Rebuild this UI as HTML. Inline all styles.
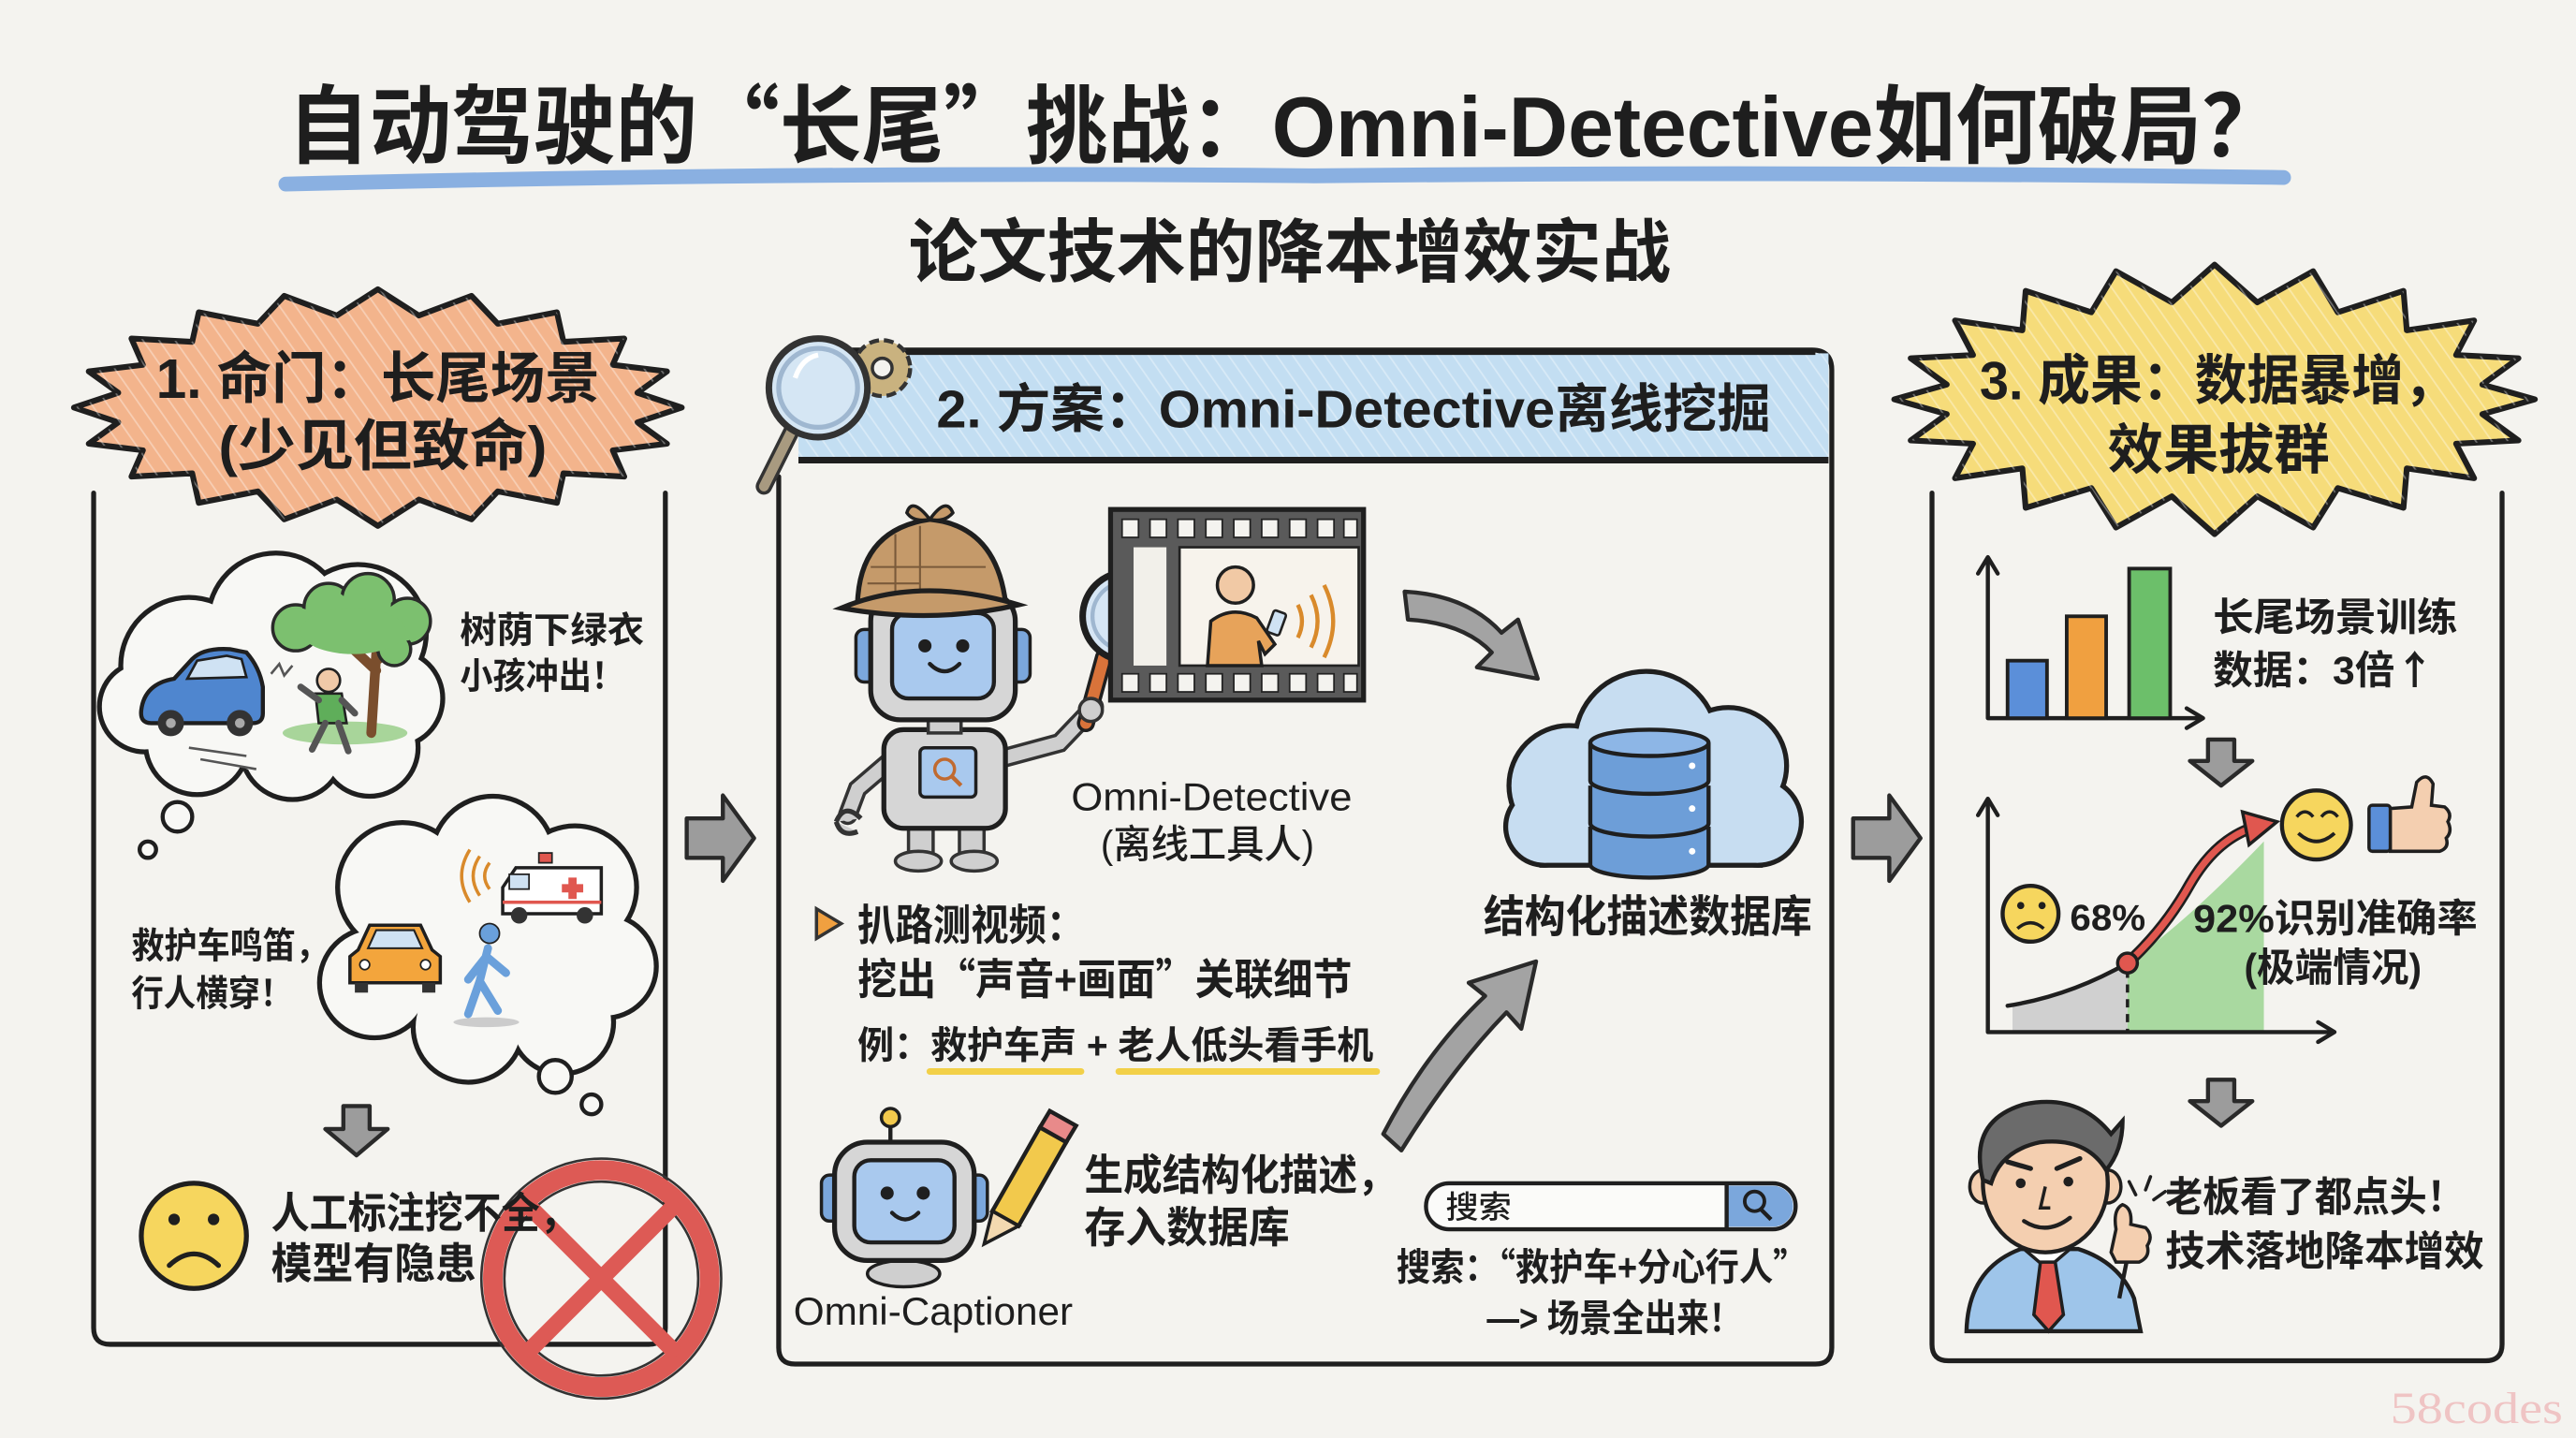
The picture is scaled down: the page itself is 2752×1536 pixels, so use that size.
<!DOCTYPE html>
<html><head><meta charset="utf-8">
<style>
html,body{margin:0;padding:0;background:#f4f3ef;}
svg{display:block}
.t{font-family:"Liberation Sans","Noto Sans CJK SC",sans-serif;fill:#1e1e1e;}
.b{font-weight:700}
.m{font-weight:500}
.q{font-family:"Noto Sans CJK SC",sans-serif;}
</style></head>
<body>
<svg width="2752" height="1536" viewBox="0 0 1568 875" preserveAspectRatio="none" xmlns="http://www.w3.org/2000/svg">
<defs>
<pattern id="hatch" width="8" height="8" patternUnits="userSpaceOnUse" patternTransform="rotate(-35)">
<line x1="0" y1="0" x2="0" y2="8" stroke="#ffffff" stroke-width="2" opacity="0.35"/>
</pattern>
</defs>
<rect width="1568" height="875" fill="#f4f3ef"/>

<!-- Title -->
<text class="t b" x="175" y="95" font-size="52" textLength="1215" lengthAdjust="spacingAndGlyphs">自动驾驶的<tspan class="q">“</tspan>长尾<tspan class="q">”</tspan>挑战：Omni-Detective如何破局？</text>
<path d="M174,112 Q500,104 800,107 Q1100,104 1390,108" stroke="#7ea9df" stroke-width="9" fill="none" stroke-linecap="round" opacity="0.9"/>
<text class="t b" x="553" y="168" font-size="42" textLength="464" lengthAdjust="spacingAndGlyphs">论文技术的降本增效实战</text>

<!-- Panel boxes -->
<g stroke="#1f1f1f" stroke-width="3" fill="none" stroke-linecap="round">
<path d="M57,300 L57,808 Q57,818 67,818 L395,818 Q405,818 405,808 L405,300"/>
<path d="M474,290 L474,820 Q474,830 484,830 L1105,830 Q1115,830 1115,820 L1115,225 Q1115,213 1103,213 L490,213"/>
<path d="M1176,300 L1176,818 Q1176,828 1186,828 L1513,828 Q1523,828 1523,818 L1523,300"/>
</g>

<!-- Middle header band -->
<rect x="486" y="215" width="627" height="64" fill="#c3def2"/>
<rect x="486" y="215" width="627" height="64" fill="url(#hatch)"/>
<line x1="490" y1="214" x2="1105" y2="214" stroke="#1f1f1f" stroke-width="4"/>
<line x1="486" y1="280" x2="1113" y2="280" stroke="#1f1f1f" stroke-width="4"/>
<text class="t b" x="570" y="260" font-size="32" textLength="508" lengthAdjust="spacingAndGlyphs">2. 方案：Omni-Detective离线挖掘</text>
<!-- gear + magnifier -->
<circle cx="537" cy="224" r="17" fill="#c9b27f" stroke="#333" stroke-width="2.5" stroke-dasharray="6 3"/>
<circle cx="537" cy="224" r="6" fill="#f4f3ef" stroke="#333" stroke-width="2"/>
<line x1="482" y1="262" x2="465" y2="296" stroke="#333" stroke-width="10" stroke-linecap="round"/>
<line x1="482" y1="262" x2="465" y2="296" stroke="#a89a80" stroke-width="6" stroke-linecap="round"/>
<circle cx="498" cy="236" r="30" fill="#d5e6f4" stroke="#333" stroke-width="4"/>
<circle cx="498" cy="236" r="24" fill="none" stroke="#9fb7d0" stroke-width="3"/>
<path d="M484,230 Q488,218 498,216" stroke="#fff" stroke-width="3" fill="none"/>

<!-- Left starburst -->
<polygon points="415,248 388,257 406,270 373,274 380,290 343,288 339,306 303,299 287,316 255,304 230,320 205,304 173,316 157,299 121,306 117,288 80,290 87,274 54,270 72,257 45,248 72,239 54,226 87,222 80,206 117,208 121,190 157,197 173,180 205,192 230,176 255,192 287,180 303,197 339,190 343,208 380,206 373,222 406,226 388,239" fill="#f3b48c" stroke="#1f1f1f" stroke-width="3.5" stroke-linejoin="round"/>
<polygon points="415,248 388,257 406,270 373,274 380,290 343,288 339,306 303,299 287,316 255,304 230,320 205,304 173,316 157,299 121,306 117,288 80,290 87,274 54,270 72,257 45,248 72,239 54,226 87,222 80,206 117,208 121,190 157,197 173,180 205,192 230,176 255,192 287,180 303,197 339,190 343,208 380,206 373,222 406,226 388,239" fill="url(#hatch)"/>
<text class="t b" x="95" y="242" font-size="34" textLength="270" lengthAdjust="spacingAndGlyphs">1. 命门：长尾场景</text>
<text class="t b" x="133" y="283" font-size="34" textLength="200" lengthAdjust="spacingAndGlyphs">(少见但致命)</text>

<!-- Right starburst -->
<polygon points="1543,243 1511,252 1533,268 1495,270 1506,291 1465,285 1463,309 1423,297 1408,321 1374,302 1348,325 1322,302 1288,321 1273,297 1233,309 1231,285 1190,291 1201,270 1163,268 1185,252 1153,243 1185,234 1163,218 1201,216 1190,195 1231,201 1233,177 1273,190 1288,165 1322,184 1348,161 1374,184 1408,165 1423,190 1463,177 1465,201 1506,195 1495,216 1533,218 1511,234" fill="#f6dc7a" stroke="#1f1f1f" stroke-width="3.5" stroke-linejoin="round"/>
<polygon points="1543,243 1511,252 1533,268 1495,270 1506,291 1465,285 1463,309 1423,297 1408,321 1374,302 1348,325 1322,302 1288,321 1273,297 1233,309 1231,285 1190,291 1201,270 1163,268 1185,252 1153,243 1185,234 1163,218 1201,216 1190,195 1231,201 1233,177 1273,190 1288,165 1322,184 1348,161 1374,184 1408,165 1423,190 1463,177 1465,201 1506,195 1495,216 1533,218 1511,234" fill="url(#hatch)"/>
<text class="t b" x="1205" y="243" font-size="33" textLength="290" lengthAdjust="spacingAndGlyphs">3. 成果：数据暴增，</text>
<text class="t b" x="1283" y="285" font-size="33" textLength="135" lengthAdjust="spacingAndGlyphs">效果拔群</text>

<!-- Between-panel arrows -->
<path d="M418,498 L440,498 L440,484 L459,510 L440,536 L440,522 L418,522 Z" fill="#9c9c9c" stroke="#2a2a2a" stroke-width="2.5" stroke-linejoin="round"/>
<path d="M1128,498 L1150,498 L1150,484 L1169,510 L1150,536 L1150,522 L1128,522 Z" fill="#9c9c9c" stroke="#2a2a2a" stroke-width="2.5" stroke-linejoin="round"/>

<!-- ===== LEFT PANEL CONTENT ===== -->
<!-- cloud 1 -->
<g stroke="#1f1f1f" stroke-width="6" fill="#f8f8f5">
<circle cx="115" cy="405" r="40"/><circle cx="168" cy="378" r="40"/><circle cx="218" cy="385" r="40"/><circle cx="240" cy="425" r="28"/><circle cx="225" cy="455" r="28"/><circle cx="178" cy="455" r="30"/><circle cx="120" cy="452" r="30"/><circle cx="88" cy="430" r="26"/>
</g>
<g fill="#f8f8f5">
<circle cx="115" cy="405" r="40"/><circle cx="168" cy="378" r="40"/><circle cx="218" cy="385" r="40"/><circle cx="240" cy="425" r="28"/><circle cx="225" cy="455" r="28"/><circle cx="178" cy="455" r="30"/><circle cx="120" cy="452" r="30"/><circle cx="88" cy="430" r="26"/><circle cx="170" cy="422" r="50"/>
</g>
<!-- tree -->
<ellipse cx="210" cy="446" rx="38" ry="7" fill="#a8d59a"/>
<path d="M226,446 L229,398 M229,408 L214,394 M229,402 L243,392" stroke="#7a4e2d" stroke-width="6" fill="none" stroke-linecap="round"/>
<g fill="#7cc06f" stroke="#2a2a2a" stroke-width="2">
<circle cx="180" cy="382" r="14"/><circle cx="200" cy="370" r="15"/><circle cx="224" cy="365" r="16"/><circle cx="248" cy="378" r="14"/><circle cx="240" cy="395" r="10"/>
</g>
<g fill="#7cc06f"><circle cx="182" cy="382" r="12"/><circle cx="200" cy="372" r="13"/><circle cx="224" cy="367" r="14"/><circle cx="246" cy="378" r="12"/><circle cx="239" cy="394" r="8"/><ellipse cx="215" cy="384" rx="32" ry="14"/></g>
<!-- child -->
<circle cx="200" cy="414" r="7" fill="#f0c9a8" stroke="#222" stroke-width="1.5"/>
<path d="M192,422 L208,422 L211,440 L194,440 Z" fill="#5fae5a" stroke="#222" stroke-width="1.5"/>
<path d="M194,426 L183,418 M208,426 L216,434 M198,440 L190,456 M206,440 L212,457" stroke="#555" stroke-width="4" fill="none" stroke-linecap="round"/>
<!-- blue car -->
<path d="M86,432 Q88,416 106,413 L117,401 Q124,394 140,395 L150,397 Q158,406 160,418 L160,434 Q160,440 154,440 L92,440 Q85,440 86,432 Z" fill="#4f86cf" stroke="#1f1f1f" stroke-width="2.5"/>
<path d="M120,402 L138,399 L147,401 L150,412 L114,413 Z" fill="#cfe2f3" stroke="#1f1f1f" stroke-width="1.5"/>
<circle cx="104" cy="440" r="8" fill="#333"/><circle cx="104" cy="440" r="3" fill="#aaa"/>
<circle cx="146" cy="440" r="8" fill="#333"/><circle cx="146" cy="440" r="3" fill="#aaa"/>
<path d="M115,455 L150,460 M122,462 L156,468 M165,410 L170,404 L173,411 L178,405" stroke="#555" stroke-width="1.5" fill="none"/>
<!-- bubbles -->
<circle cx="108" cy="497" r="9" fill="#f8f8f5" stroke="#1f1f1f" stroke-width="2.5"/>
<circle cx="90" cy="517" r="5" fill="#f8f8f5" stroke="#1f1f1f" stroke-width="2.5"/>
<text class="t b" x="280" y="391" font-size="22" textLength="112" lengthAdjust="spacingAndGlyphs">树荫下绿衣</text>
<text class="t b" x="280" y="419" font-size="22" textLength="100" lengthAdjust="spacingAndGlyphs">小孩冲出！</text>

<!-- cloud 2 -->
<g stroke="#1f1f1f" stroke-width="6" fill="#f8f8f5">
<circle cx="245" cy="540" r="38"/><circle cx="300" cy="522" r="36"/><circle cx="350" cy="540" r="36"/><circle cx="368" cy="588" r="30"/><circle cx="342" cy="622" r="30"/><circle cx="285" cy="625" r="32"/><circle cx="228" cy="598" r="32"/>
</g>
<g fill="#f8f8f5">
<circle cx="245" cy="540" r="38"/><circle cx="300" cy="522" r="36"/><circle cx="350" cy="540" r="36"/><circle cx="368" cy="588" r="30"/><circle cx="342" cy="622" r="30"/><circle cx="285" cy="625" r="32"/><circle cx="228" cy="598" r="32"/><circle cx="298" cy="578" r="55"/>
</g>
<!-- ambulance -->
<rect x="328" y="519" width="8" height="6" fill="#e0574f" stroke="#222" stroke-width="1"/>
<path d="M306,540 L314,528 L366,528 L366,556 L306,556 Z" fill="#fff" stroke="#1f1f1f" stroke-width="2"/>
<rect x="310" y="532" width="12" height="9" fill="#cfe2f3" stroke="#222" stroke-width="1"/>
<line x1="306" y1="549" x2="366" y2="549" stroke="#e0574f" stroke-width="2"/>
<path d="M346,534 h5 v4 h4 v5 h-4 v4 h-5 v-4 h-4 v-5 h4 Z" fill="#e0574f"/>
<circle cx="316" cy="557" r="5" fill="#333"/><circle cx="356" cy="557" r="5" fill="#333"/>
<path d="M298,525 Q292,533 298,541 M292,521 Q284,533 292,545 M286,517 Q276,533 286,549" stroke="#d98a2b" stroke-width="2" fill="none"/>
<!-- orange car -->
<path d="M218,578 L225,563 L256,563 L263,578 L268,582 L268,598 L213,598 L213,582 Z" fill="#f3a53c" stroke="#1f1f1f" stroke-width="2"/>
<path d="M224,577 L229,566 L252,566 L257,577 Z" fill="#cfe2f3" stroke="#222" stroke-width="1.2"/>
<circle cx="222" cy="587" r="3" fill="#fff" stroke="#222"/><circle cx="259" cy="587" r="3" fill="#fff" stroke="#222"/>
<rect x="216" y="598" width="8" height="6" fill="#333"/><rect x="257" y="598" width="8" height="6" fill="#333"/>
<!-- pedestrian -->
<ellipse cx="296" cy="622" rx="20" ry="3" fill="#ccc"/>
<circle cx="298" cy="568" r="6" fill="#6aa0db" stroke="#222" stroke-width="1"/>
<path d="M297,577 L292,597 L285,617 M292,597 L303,615 M296,582 L285,596 M296,582 L308,592" stroke="#6aa0db" stroke-width="5" fill="none" stroke-linecap="round"/>
<circle cx="338" cy="655" r="10" fill="#f8f8f5" stroke="#1f1f1f" stroke-width="2.5"/>
<circle cx="360" cy="672" r="6" fill="#f8f8f5" stroke="#1f1f1f" stroke-width="2.5"/>
<text class="t b" x="80" y="583" font-size="22" textLength="120" lengthAdjust="spacingAndGlyphs">救护车鸣笛，</text>
<text class="t b" x="80" y="612" font-size="22" textLength="98" lengthAdjust="spacingAndGlyphs">行人横穿！</text>

<!-- down arrow -->
<path d="M209,673 L225,673 L225,687 L236,687 L217,703 L198,687 L209,687 Z" fill="#9c9c9c" stroke="#2a2a2a" stroke-width="2.5" stroke-linejoin="round"/>

<!-- red prohibition (behind text) -->
<circle cx="366" cy="778" r="73" fill="none" stroke="#333" stroke-width="1.5"/>
<circle cx="366" cy="778" r="66" fill="none" stroke="#dd5a55" stroke-width="12"/>
<circle cx="366" cy="778" r="59" fill="none" stroke="#333" stroke-width="1.5"/>
<path d="M323,735 L409,821 M409,735 L323,821" stroke="#dd5a55" stroke-width="10" stroke-linecap="round"/>

<!-- sad face -->
<circle cx="118" cy="752" r="32" fill="#f6d65e" stroke="#1f1f1f" stroke-width="3"/>
<circle cx="106" cy="742" r="3.5" fill="#1f1f1f"/><circle cx="130" cy="742" r="3.5" fill="#1f1f1f"/>
<path d="M103,770 Q118,756 133,770" stroke="#1f1f1f" stroke-width="3" fill="none" stroke-linecap="round"/>
<text class="t b" x="165" y="747" font-size="26" textLength="187" lengthAdjust="spacingAndGlyphs">人工标注挖不全，</text>
<text class="t b" x="165" y="778" font-size="26" textLength="125" lengthAdjust="spacingAndGlyphs">模型有隐患</text>

<!-- ===== MIDDLE PANEL CONTENT ===== -->
<!-- detective robot -->
<path d="M543,462 L522,480 L516,496" stroke="#333" stroke-width="12" fill="none" stroke-linecap="round"/>
<path d="M543,462 L522,480 L516,496" stroke="#cfcfcf" stroke-width="8" fill="none" stroke-linecap="round"/>
<path d="M509,500 Q514,488 524,498 M509,500 Q512,510 522,506" stroke="#333" stroke-width="3" fill="#cfcfcf"/>
<path d="M608,462 L645,452 L666,430" stroke="#333" stroke-width="12" fill="none" stroke-linecap="round"/>
<path d="M608,462 L645,452 L666,430" stroke="#cfcfcf" stroke-width="8" fill="none" stroke-linecap="round"/>
<rect x="553" y="500" width="15" height="20" fill="#cfcfcf" stroke="#333" stroke-width="2"/>
<rect x="584" y="500" width="15" height="20" fill="#cfcfcf" stroke="#333" stroke-width="2"/>
<ellipse cx="559" cy="524" rx="14" ry="6" fill="#cfcfcf" stroke="#333" stroke-width="2"/>
<ellipse cx="593" cy="524" rx="14" ry="6" fill="#cfcfcf" stroke="#333" stroke-width="2"/>
<rect x="538" y="444" width="74" height="60" rx="12" fill="#d6d6d6" stroke="#1f1f1f" stroke-width="3"/>
<rect x="560" y="455" width="34" height="30" rx="3" fill="#a9c9ee" stroke="#1f1f1f" stroke-width="2"/>
<circle cx="575" cy="468" r="6" fill="none" stroke="#c06a30" stroke-width="2"/>
<line x1="579" y1="472" x2="585" y2="478" stroke="#c06a30" stroke-width="2.5"/>
<rect x="565" y="436" width="20" height="10" fill="#cfcfcf" stroke="#333" stroke-width="2"/>
<rect x="521" y="383" width="13" height="32" rx="5" fill="#7ba7dc" stroke="#1f1f1f" stroke-width="2"/>
<rect x="614" y="383" width="13" height="32" rx="5" fill="#7ba7dc" stroke="#1f1f1f" stroke-width="2"/>
<rect x="530" y="360" width="88" height="78" rx="18" fill="#d6d6d6" stroke="#1f1f1f" stroke-width="3"/>
<rect x="543" y="373" width="62" height="52" rx="10" fill="#a9c9ee" stroke="#1f1f1f" stroke-width="2.5"/>
<circle cx="563" cy="393" r="4" fill="#1f1f1f"/><circle cx="586" cy="393" r="4" fill="#1f1f1f"/>
<path d="M566,404 Q575,413 584,404" stroke="#1f1f1f" stroke-width="2.5" fill="none" stroke-linecap="round"/>
<!-- hat -->
<path d="M522,366 Q524,322 566,316 Q606,320 612,366 Z" fill="#c59a6a" stroke="#1f1f1f" stroke-width="3"/>
<path d="M530,345 L600,345 M528,355 L560,355 M545,325 L545,366 M560,320 L560,366" stroke="#7a5a3a" stroke-width="1.2"/>
<path d="M512,370 Q560,350 620,368 Q568,380 512,370 Z" fill="#c59a6a" stroke="#1f1f1f" stroke-width="3"/>
<path d="M566,316 Q555,302 552,312 Q556,318 566,316 Q576,302 580,312 Q575,318 566,316" fill="#c59a6a" stroke="#1f1f1f" stroke-width="2"/>
<!-- magnifier held -->
<line x1="672" y1="400" x2="661" y2="440" stroke="#1f1f1f" stroke-width="11" stroke-linecap="round"/>
<line x1="672" y1="400" x2="661" y2="440" stroke="#d9733a" stroke-width="7" stroke-linecap="round"/>
<circle cx="686" cy="375" r="27" fill="#d6e6f5" stroke="#1f1f1f" stroke-width="4"/>
<circle cx="686" cy="375" r="21" fill="none" stroke="#9fb7d0" stroke-width="2.5"/>
<circle cx="664" cy="432" r="7" fill="#cfcfcf" stroke="#333" stroke-width="2"/>
<!-- film strip -->
<rect x="676" y="310" width="154" height="116" fill="#5a5a5a" stroke="#1f1f1f" stroke-width="3"/>
<g fill="#f4f3ef" stroke="#222" stroke-width="1">
<rect x="683" y="316" width="10" height="11"/><rect x="700" y="316" width="10" height="11"/><rect x="717" y="316" width="10" height="11"/><rect x="734" y="316" width="10" height="11"/><rect x="751" y="316" width="10" height="11"/><rect x="768" y="316" width="10" height="11"/><rect x="785" y="316" width="10" height="11"/><rect x="802" y="316" width="10" height="11"/><rect x="818" y="316" width="8" height="11"/>
<rect x="683" y="410" width="10" height="11"/><rect x="700" y="410" width="10" height="11"/><rect x="717" y="410" width="10" height="11"/><rect x="734" y="410" width="10" height="11"/><rect x="751" y="410" width="10" height="11"/><rect x="768" y="410" width="10" height="11"/><rect x="785" y="410" width="10" height="11"/><rect x="802" y="410" width="10" height="11"/><rect x="818" y="410" width="8" height="11"/>
</g>
<rect x="690" y="333" width="20" height="72" fill="#f2f0ea"/>
<rect x="718" y="333" width="109" height="72" fill="#f7f3ec" stroke="#222" stroke-width="1.5"/>
<path d="M735,405 L737,378 Q750,368 765,376 L776,392 L770,398 L766,390 L768,405 Z" fill="#e7a35a" stroke="#1f1f1f" stroke-width="2"/>
<circle cx="752" cy="356" r="11" fill="#f1c9a5" stroke="#1f1f1f" stroke-width="2"/>
<rect x="773" y="372" width="8" height="14" rx="1.5" transform="rotate(20 777 379)" fill="#cfe2f3" stroke="#222" stroke-width="1.5"/>
<path d="M790,368 Q795,378 790,388 M798,362 Q806,378 798,394 M806,356 Q817,378 806,400" stroke="#d98a2b" stroke-width="2.5" fill="none"/>
<text class="t m" x="652" y="493" font-size="24" textLength="171" lengthAdjust="spacingAndGlyphs">Omni-Detective</text>
<text class="t m" x="670" y="522" font-size="24" textLength="130" lengthAdjust="spacingAndGlyphs">(离线工具人)</text>

<!-- curved arrow 1 -->
<path d="M855,360 Q893,362 914,385 L924,377 L936,413 L899,406 L908,397 Q891,379 857,377 Z" fill="#a3a3a3" stroke="#2a2a2a" stroke-width="2.5" stroke-linejoin="round"/>

<!-- cloud DB -->
<g stroke="#1f1f1f" stroke-width="6" fill="#c7ddf1">
<circle cx="955" cy="478" r="35"/><circle cx="1002" cy="452" r="42"/><circle cx="1052" cy="466" r="34"/><circle cx="1070" cy="500" r="25"/><circle cx="940" cy="503" r="22"/>
<rect x="940" y="495" width="130" height="30"/>
</g>
<g fill="#c7ddf1">
<circle cx="955" cy="478" r="35"/><circle cx="1002" cy="452" r="42"/><circle cx="1052" cy="466" r="34"/><circle cx="1070" cy="500" r="25"/><circle cx="940" cy="503" r="22"/>
<rect x="940" y="470" width="130" height="55"/>
</g>
<g fill="#6d9ed8" stroke="#1f1f1f" stroke-width="2.5">
<path d="M968,503 L968,526 A36,8 0 0 0 1040,526 L1040,503"/>
<path d="M968,478 L968,501 A36,8 0 0 0 1040,501 L1040,478"/>
<path d="M968,452 L968,475 A36,8 0 0 0 1040,475 L1040,452"/>
<ellipse cx="1004" cy="452" rx="36" ry="8" fill="#8db6e6"/>
</g>
<circle cx="1030" cy="466" r="2" fill="#fff"/><circle cx="1030" cy="492" r="2" fill="#fff"/><circle cx="1030" cy="518" r="2" fill="#fff"/>
<text class="t b" x="903" y="567" font-size="27" textLength="200" lengthAdjust="spacingAndGlyphs">结构化描述数据库</text>

<!-- bullet text -->
<polygon points="497,553 512,562 497,571" fill="#f0a040" stroke="#333" stroke-width="2"/>
<text class="t b" x="522" y="572" font-size="26" textLength="138" lengthAdjust="spacingAndGlyphs">扒路测视频：</text>
<text class="t b" x="522" y="605" font-size="26" textLength="301" lengthAdjust="spacingAndGlyphs">挖出<tspan class="q">“</tspan>声音+画面<tspan class="q">”</tspan>关联细节</text>
<text class="t b" x="522" y="644" font-size="23" textLength="314" lengthAdjust="spacingAndGlyphs">例：救护车声 + 老人低头看手机</text>
<line x1="566" y1="652" x2="658" y2="652" stroke="#f2d048" stroke-width="4" stroke-linecap="round"/>
<line x1="681" y1="652" x2="838" y2="652" stroke="#f2d048" stroke-width="4" stroke-linecap="round"/>

<!-- curved arrow 2 -->
<path d="M842,690 Q868,640 904,606 L894,598 L935,585 L926,626 L917,616 Q884,650 853,700 Z" fill="#a3a3a3" stroke="#2a2a2a" stroke-width="2.5" stroke-linejoin="round"/>

<!-- captioner robot -->
<line x1="542" y1="684" x2="542" y2="696" stroke="#1f1f1f" stroke-width="2.5"/>
<circle cx="542" cy="680" r="5.5" fill="#f2c94c" stroke="#1f1f1f" stroke-width="2"/>
<ellipse cx="550" cy="775" rx="22" ry="8" fill="#cfcfcf" stroke="#1f1f1f" stroke-width="2"/>
<rect x="500" y="715" width="12" height="28" rx="5" fill="#7ba7dc" stroke="#1f1f1f" stroke-width="2"/>
<rect x="589" y="715" width="12" height="28" rx="5" fill="#7ba7dc" stroke="#1f1f1f" stroke-width="2"/>
<rect x="508" y="695" width="85" height="72" rx="20" fill="#d6d6d6" stroke="#1f1f1f" stroke-width="3"/>
<rect x="520" y="706" width="61" height="50" rx="10" fill="#a9c9ee" stroke="#1f1f1f" stroke-width="2.5"/>
<circle cx="540" cy="726" r="4" fill="#1f1f1f"/><circle cx="562" cy="726" r="4" fill="#1f1f1f"/>
<path d="M543,738 Q551,746 559,738" stroke="#1f1f1f" stroke-width="2.5" fill="none" stroke-linecap="round"/>
<!-- pencil -->
<path d="M604,737 L633,686 L649,695 L620,746 Z" fill="#f2c94c" stroke="#1f1f1f" stroke-width="2.5"/>
<path d="M604,737 L620,746 L599,757 Z" fill="#f3d9b0" stroke="#1f1f1f" stroke-width="2"/>
<path d="M633,686 L639,676 L655,685 L649,695 Z" fill="#e88a8a" stroke="#1f1f1f" stroke-width="2.5"/>
<text class="t m" x="483" y="806" font-size="24" textLength="170" lengthAdjust="spacingAndGlyphs">Omni-Captioner</text>
<text class="t b" x="660" y="724" font-size="26" textLength="190" lengthAdjust="spacingAndGlyphs">生成结构化描述，</text>
<text class="t b" x="660" y="756" font-size="26" textLength="125" lengthAdjust="spacingAndGlyphs">存入数据库</text>

<!-- search bar -->
<rect x="868" y="720" width="225" height="28" rx="14" fill="#fbfbf9" stroke="#1f1f1f" stroke-width="2.5"/>
<path d="M1051,721.5 L1079,721.5 A12.5,12.5 0 0 1 1079,746.5 L1051,746.5 Z" fill="#7ba7dc"/>
<line x1="1051" y1="720" x2="1051" y2="748" stroke="#1f1f1f" stroke-width="2.5"/>
<circle cx="1068" cy="731" r="6" fill="none" stroke="#1f1f1f" stroke-width="2.2"/>
<line x1="1072" y1="736" x2="1078" y2="742" stroke="#1f1f1f" stroke-width="2.5"/>
<text class="t m" x="880" y="741" font-size="19" textLength="40" lengthAdjust="spacingAndGlyphs">搜索</text>
<text class="t b" x="850" y="779" font-size="23" textLength="250" lengthAdjust="spacingAndGlyphs">搜索：<tspan class="q">“</tspan>救护车+分心行人<tspan class="q">”</tspan></text>
<text class="t b" x="905" y="810" font-size="23" textLength="155" lengthAdjust="spacingAndGlyphs">—&gt; 场景全出来！</text>

<!-- ===== RIGHT PANEL CONTENT ===== -->
<g stroke="#1f1f1f" stroke-width="2.5" fill="none" stroke-linecap="round" stroke-linejoin="round">
<path d="M1210,340 L1210,437 L1340,437"/>
<path d="M1204,349 L1210,339 L1216,349"/>
<path d="M1331,431 L1341,437 L1331,443"/>
</g>
<rect x="1222" y="402" width="24" height="35" fill="#5b8fd9" stroke="#1f1f1f" stroke-width="2.2"/>
<rect x="1258" y="375" width="24" height="62" fill="#f0a040" stroke="#1f1f1f" stroke-width="2.2"/>
<rect x="1296" y="346" width="25" height="91" fill="#6cbf6a" stroke="#1f1f1f" stroke-width="2.2"/>
<text class="t b" x="1347" y="384" font-size="24" textLength="149" lengthAdjust="spacingAndGlyphs">长尾场景训练</text>
<text class="t b" x="1347" y="416" font-size="24" textLength="135" lengthAdjust="spacingAndGlyphs">数据：3倍<tspan class="q">↑</tspan></text>

<path d="M1344,450 L1360,450 L1360,463 L1371,463 L1352,478 L1333,463 L1344,463 Z" fill="#9c9c9c" stroke="#2a2a2a" stroke-width="2.5" stroke-linejoin="round"/>

<!-- line chart -->
<path d="M1225,612 Q1262,605 1295,586 L1295,628 L1225,628 Z" fill="#d0d0d0"/>
<path d="M1295,586 Q1330,562 1378,512 L1378,628 L1295,628 Z" fill="#a9d9a0"/>
<line x1="1295" y1="590" x2="1295" y2="628" stroke="#1f1f1f" stroke-width="2" stroke-dasharray="5 4"/>
<g stroke="#1f1f1f" stroke-width="2.5" fill="none" stroke-linecap="round" stroke-linejoin="round">
<path d="M1210,487 L1210,628 L1420,628"/>
<path d="M1204,496 L1210,486 L1216,496"/>
<path d="M1411,622 L1421,628 L1411,634"/>
<path d="M1222,612 Q1260,606 1295,586"/>
</g>
<path d="M1295,586 Q1318,565 1333,538 Q1348,512 1370,504" stroke="#1f1f1f" stroke-width="7" fill="none" stroke-linecap="round"/>
<path d="M1295,586 Q1318,565 1333,538 Q1348,512 1370,504" stroke="#e0574f" stroke-width="4" fill="none" stroke-linecap="round"/>
<polygon points="1365,494 1386,500 1369,514" fill="#e0574f" stroke="#1f1f1f" stroke-width="2"/>
<circle cx="1295" cy="586" r="6" fill="#e0574f" stroke="#1f1f1f" stroke-width="2"/>
<!-- small sad face -->
<circle cx="1236" cy="556" r="17" fill="#f6d65e" stroke="#1f1f1f" stroke-width="2.5"/>
<circle cx="1230" cy="551" r="2.2" fill="#1f1f1f"/><circle cx="1243" cy="551" r="2.2" fill="#1f1f1f"/>
<path d="M1228,565 Q1236,558 1244,565" stroke="#1f1f1f" stroke-width="2" fill="none"/>
<text class="t b" x="1260" y="566" font-size="22" textLength="46" lengthAdjust="spacingAndGlyphs">68%</text>
<text class="t b" x="1335" y="567" font-size="24" textLength="173" lengthAdjust="spacingAndGlyphs">92%识别准确率</text>
<text class="t b" x="1366" y="597" font-size="24" textLength="108" lengthAdjust="spacingAndGlyphs">(极端情况)</text>
<!-- happy face -->
<circle cx="1410" cy="502" r="21" fill="#f6d65e" stroke="#1f1f1f" stroke-width="2.5"/>
<path d="M1398,497 Q1403,491 1408,497 M1413,497 Q1418,491 1423,497" stroke="#1f1f1f" stroke-width="2" fill="none"/>
<path d="M1399,507 Q1410,517 1421,507" stroke="#1f1f1f" stroke-width="2.2" fill="none"/>
<!-- thumbs up -->
<rect x="1442" y="490" width="13" height="28" rx="2" fill="#5b8fd9" stroke="#1f1f1f" stroke-width="2"/>
<path d="M1455,492 L1468,491 L1471,476 Q1477,469 1481,477 L1480,490 L1488,491 Q1493,495 1490,500 Q1493,506 1489,510 Q1491,516 1485,518 L1455,518 Z" fill="#f4cfb0" stroke="#1f1f1f" stroke-width="2"/>

<path d="M1344,657 L1360,657 L1360,670 L1371,670 L1352,685 L1333,670 L1344,670 Z" fill="#9c9c9c" stroke="#2a2a2a" stroke-width="2.5" stroke-linejoin="round"/>

<!-- businessman -->
<path d="M1197,810 Q1198,772 1230,760 L1265,760 Q1290,768 1299,790 L1303,810 Z" fill="#9ec5ea" stroke="#1f1f1f" stroke-width="2.5"/>
<path d="M1232,760 L1246,772 L1260,760" fill="#fff" stroke="#1f1f1f" stroke-width="2"/>
<path d="M1242,768 L1251,768 L1256,800 L1247,810 L1238,800 Z" fill="#e0574f" stroke="#1f1f1f" stroke-width="2"/>
<path d="M1290,790 L1296,760 L1302,755" stroke="#1f1f1f" stroke-width="2.5" fill="none"/>
<ellipse cx="1207" cy="722" rx="8" ry="10" fill="#f4cfb0" stroke="#1f1f1f" stroke-width="2"/>
<ellipse cx="1283" cy="722" rx="8" ry="10" fill="#f4cfb0" stroke="#1f1f1f" stroke-width="2"/>
<ellipse cx="1245" cy="720" rx="38" ry="42" fill="#f4cfb0" stroke="#1f1f1f" stroke-width="2.5"/>
<path d="M1207,718 Q1198,682 1232,672 Q1265,665 1285,690 L1292,682 Q1292,700 1282,712 Q1270,692 1242,695 Q1218,700 1212,720 Z" fill="#6b6b6b" stroke="#1f1f1f" stroke-width="2.5"/>
<path d="M1222,707 L1236,711 M1252,711 L1266,705" stroke="#1f1f1f" stroke-width="3" stroke-linecap="round"/>
<circle cx="1230" cy="720" r="3" fill="#1f1f1f"/><circle cx="1259" cy="719" r="3" fill="#1f1f1f"/>
<path d="M1245,722 L1242,735 L1248,735" stroke="#1f1f1f" stroke-width="2" fill="none"/>
<path d="M1232,743 Q1246,752 1260,741" stroke="#1f1f1f" stroke-width="2.5" fill="none" stroke-linecap="round"/>
<path d="M1285,762 L1288,748 Q1286,736 1292,733 Q1298,735 1297,745 L1306,747 Q1311,752 1307,758 Q1309,765 1302,768 L1288,768 Z" fill="#f4cfb0" stroke="#1f1f1f" stroke-width="2"/>
<path d="M1300,727 L1296,719 M1306,724 L1309,716 M1311,730 L1318,725" stroke="#1f1f1f" stroke-width="2" stroke-linecap="round"/>
<text class="t b" x="1318" y="737" font-size="25" textLength="182" lengthAdjust="spacingAndGlyphs">老板看了都点头！</text>
<text class="t b" x="1318" y="770" font-size="25" textLength="194" lengthAdjust="spacingAndGlyphs">技术落地降本增效</text>

<!-- watermark -->
<text x="1455" y="866" font-family="'Liberation Serif',serif" font-size="27" fill="#efc4c4" textLength="105" lengthAdjust="spacingAndGlyphs">58codes</text>
</svg>
</body></html>
